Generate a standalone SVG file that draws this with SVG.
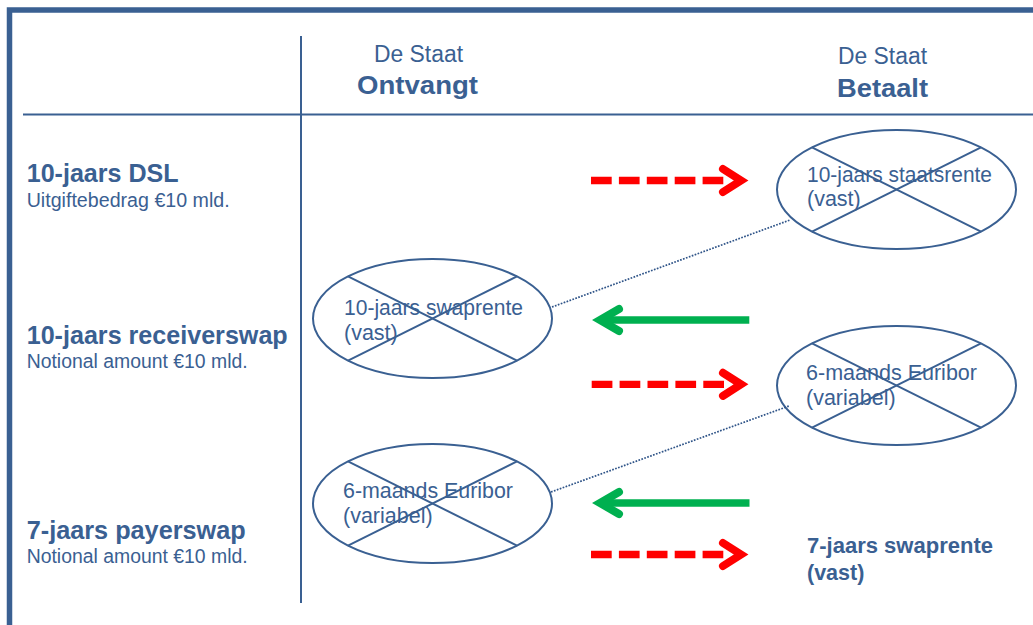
<svg xmlns="http://www.w3.org/2000/svg" width="1033" height="625" viewBox="0 0 1033 625">
<style>
.t{font-family:"Liberation Sans",Arial,sans-serif;fill:#3A6092}
.b{font-weight:bold}
.hd{font-size:23.5px}
.hb{font-size:26.5px}
.ti{font-size:25.5px}
.su{font-size:20px}
.et{font-size:21.5px}
.ln{stroke:#3A6092;stroke-width:2;fill:none}
.el{stroke:#3A6092;stroke-width:2;fill:none}
.dot{stroke:#2F5488;stroke-width:1.7;stroke-dasharray:1.7 1.4;fill:none}
.red{stroke:#FF0000;stroke-width:7.3;fill:none;stroke-dasharray:20.7 7.2}
.redh{stroke:#FF0000;stroke-width:8;fill:none;stroke-linecap:round;stroke-linejoin:miter;stroke-miterlimit:10}
.grn{stroke:#00B050;stroke-width:7.3;fill:none}
.grnh{stroke:#00B050;stroke-width:8;fill:none;stroke-linecap:round;stroke-linejoin:miter;stroke-miterlimit:10}
</style>
<rect width="1033" height="625" fill="#FFFFFF"/>
<g id="frame">
<rect x="9.5" y="10" width="1100" height="700" fill="#FFFFFF" stroke="#3A6092" stroke-width="5.5"/>
<line class="ln" x1="23" y1="114.5" x2="1033" y2="114.5"/>
<line class="ln" x1="301" y1="36" x2="301" y2="603"/>
</g>
<g id="header-ontvangt">
<text class="t hd" x="374" y="62" textLength="89" lengthAdjust="spacingAndGlyphs">De Staat</text>
<text class="t b hb" x="357" y="94" textLength="121" lengthAdjust="spacingAndGlyphs">Ontvangt</text>
</g>
<g id="header-betaalt">
<text class="t hd" x="838" y="64" textLength="89" lengthAdjust="spacingAndGlyphs">De Staat</text>
<text class="t b hb" x="837" y="97" textLength="91" lengthAdjust="spacingAndGlyphs">Betaalt</text>
</g>
<g id="row-dsl">
<text class="t b ti" x="26.7" y="182.3" textLength="152" lengthAdjust="spacingAndGlyphs">10-jaars DSL</text>
<text class="t su" x="26.7" y="207.3" textLength="203" lengthAdjust="spacingAndGlyphs">Uitgiftebedrag €10 mld.</text>
</g>
<g id="row-receiverswap">
<text class="t b ti" x="26.7" y="344" textLength="261" lengthAdjust="spacingAndGlyphs">10-jaars receiverswap</text>
<text class="t su" x="26.7" y="368.3" textLength="221" lengthAdjust="spacingAndGlyphs">Notional amount €10 mld.</text>
</g>
<g id="row-payerswap">
<text class="t b ti" x="26.7" y="539" textLength="219" lengthAdjust="spacingAndGlyphs">7-jaars payerswap</text>
<text class="t su" x="26.7" y="562.7" textLength="221" lengthAdjust="spacingAndGlyphs">Notional amount €10 mld.</text>
</g>
<g id="node-staatsrente">
<ellipse class="el" cx="896.5" cy="189.5" rx="119.5" ry="59.5"/>
<line class="el" x1="812" y1="147.4" x2="981" y2="231.6"/>
<line class="el" x1="981" y1="147.4" x2="812" y2="231.6"/>
<text class="t et" x="807" y="182" textLength="185" lengthAdjust="spacingAndGlyphs">10-jaars staatsrente</text>
<text class="t et" x="807" y="205.5">(vast)</text>
</g>
<g id="node-swaprente10">
<ellipse class="el" cx="432.5" cy="318.5" rx="119.5" ry="59.5"/>
<line class="el" x1="348" y1="276.4" x2="517" y2="360.6"/>
<line class="el" x1="517" y1="276.4" x2="348" y2="360.6"/>
<text class="t et" x="344" y="315" textLength="179" lengthAdjust="spacingAndGlyphs">10-jaars swaprente</text>
<text class="t et" x="344" y="340">(vast)</text>
</g>
<g id="node-euribor-betaalt">
<ellipse class="el" cx="896.5" cy="385.5" rx="119.5" ry="59.5"/>
<line class="el" x1="812" y1="343.4" x2="981" y2="427.6"/>
<line class="el" x1="981" y1="343.4" x2="812" y2="427.6"/>
<text class="t et" x="806" y="380" textLength="171" lengthAdjust="spacingAndGlyphs">6-maands Euribor</text>
<text class="t et" x="806" y="405">(variabel)</text>
</g>
<g id="node-euribor-ontvangt">
<ellipse class="el" cx="432.5" cy="503.5" rx="119.5" ry="59.5"/>
<line class="el" x1="348" y1="461.4" x2="517" y2="545.6"/>
<line class="el" x1="517" y1="461.4" x2="348" y2="545.6"/>
<text class="t et" x="343" y="498" textLength="170" lengthAdjust="spacingAndGlyphs">6-maands Euribor</text>
<text class="t et" x="343" y="523">(variabel)</text>
</g>
<g id="node-swaprente7">
<text class="t b" style="font-size:21.5px" x="807" y="553" textLength="186" lengthAdjust="spacingAndGlyphs">7-jaars swaprente</text>
<text class="t b" style="font-size:21.5px" x="807" y="580">(vast)</text>
</g>
<g id="connectors">
<line class="dot" x1="552" y1="307" x2="790" y2="220"/>
<line class="dot" x1="551" y1="492" x2="789" y2="406"/>
<line class="red" x1="591" y1="180.5" x2="724" y2="180.5"/>
<polyline class="redh" points="723,169 741,180.5 723,192"/>
<line class="grn" x1="749.3" y1="320" x2="602" y2="320"/>
<polyline class="grnh" points="619,309 600,320 619,331"/>
<line class="red" x1="591.7" y1="384.3" x2="724" y2="384.3"/>
<polyline class="redh" points="723,372.8 741,384.3 723,395.8"/>
<line class="grn" x1="749.5" y1="503" x2="602" y2="503"/>
<polyline class="grnh" points="619,492 600,503 619,514"/>
<line class="red" x1="591" y1="554.5" x2="724" y2="554.5"/>
<polyline class="redh" points="723,543 741,554.5 723,566"/>
</g>
</svg>
